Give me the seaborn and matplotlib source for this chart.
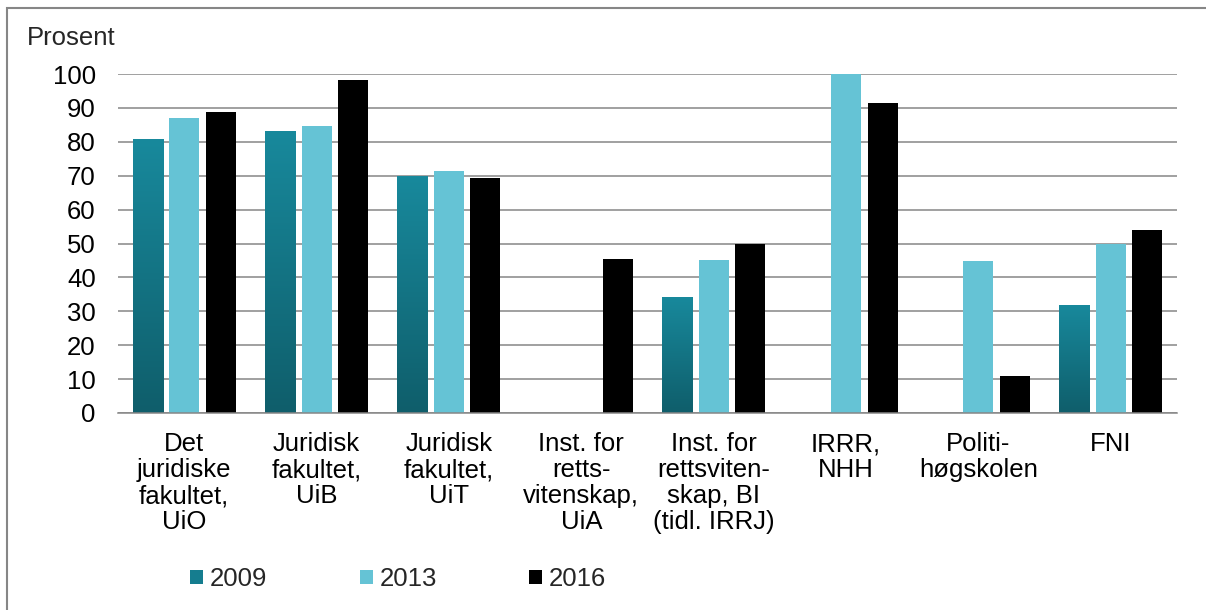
import numpy as np
import pandas as pd
import seaborn as sns
import matplotlib.pyplot as plt
from matplotlib.patches import Rectangle, Patch
from matplotlib.colors import LinearSegmentedColormap

# Chart data (percent)
institutions = [
    "Det\njuridiske\nfakultet,\nUiO",
    "Juridisk\nfakultet,\nUiB",
    "Juridisk\nfakultet,\nUiT",
    "Inst. for\nretts-\nvitenskap,\nUiA",
    "Inst. for\nrettsviten-\nskap, BI\n(tidl. IRRJ)",
    "IRRR,\nNHH",
    "Politi-\nhøgskolen",
    "FNI",
]
years = ["2009", "2013", "2016"]
values_2009 = [80.8, 83.2, 69.8, np.nan, 34.3, np.nan, np.nan, 32.0]
values_2013 = [86.9, 84.8, 71.3, np.nan, 45.1, 100.0, 44.7, 49.9]
values_2016 = [88.7, 98.1, 69.4, 45.4, 49.9, 91.3, 10.9, 54.1]

colors = {"2009": "#157D8F", "2013": "#65C3D5", "2016": "#000000"}

df = pd.DataFrame({
    "Institusjon": institutions * 3,
    "År": ["2009"] * 8 + ["2013"] * 8 + ["2016"] * 8,
    "Prosent": values_2009 + values_2013 + values_2016,
}).dropna()

sns.set_style("white")
plt.rcParams["font.family"] = ["Liberation Sans", "DejaVu Sans"]

fig = plt.figure(figsize=(12.06, 6.10), dpi=100)
W, H = 1206, 610
ax = fig.add_axes([118 / W, 1 - 413 / H, (1177 - 118) / W, (413 - 74) / H])

sns.barplot(data=df, x="Institusjon", y="Prosent", hue="År",
            order=institutions, hue_order=years, palette=colors, saturation=1,
            width=0.828, errorbar=None, linewidth=0, legend=False, ax=ax)

# narrow the bars to leave small gaps like the original
bar_w = 30 / 132.3
grad = LinearSegmentedColormap.from_list("g", ["#0F5E6B", "#18899C"])
for year, cont in zip(years, ax.containers):
    for p in cont:
        cx = p.get_x() + p.get_width() / 2
        p.set_x(cx - bar_w / 2)
        p.set_width(bar_w)
        if year == "2009":
            # vertical gradient fill for 2009 bars
            h = p.get_height()
            img = ax.imshow(np.linspace(0, 1, 100).reshape(-1, 1), cmap=grad,
                            origin="lower", aspect="auto",
                            extent=[cx - bar_w / 2, cx + bar_w / 2, 0, h],
                            zorder=p.get_zorder() + 0.1)
            img.set_clip_path(p)

ax.set_xlim(-0.5, len(institutions) - 0.5)
ax.set_ylim(0, 100)
ax.set_yticks(range(0, 101, 10))
ax.yaxis.grid(True, color="#868686", linewidth=1.1)
ax.set_axisbelow(True)
for s in ["left", "right", "top"]:
    ax.spines[s].set_visible(False)
ax.spines["bottom"].set_color("#868686")
ax.spines["bottom"].set_linewidth(1.1)
ax.tick_params(axis="y", length=0, pad=16, labelsize=18.5, labelcolor="black")
ax.tick_params(axis="x", length=0, pad=14, labelsize=18.5, labelcolor="black")
for lbl in ax.get_xticklabels():
    lbl.set_linespacing(1.1)
    lbl.set_verticalalignment("top")
ax.set_xlabel("")
ax.set_ylabel("")

fig.text(27 / W, 1 - 45 / H, "Prosent", fontsize=18.5, va="baseline", ha="left")

handles = [Patch(facecolor=colors[y], edgecolor="none") for y in years]
fig.legend(handles, years, loc="center left", bbox_to_anchor=(190 / W, 1 - 579 / H),
           ncol=3, frameon=False, fontsize=18.5, handlelength=0.5, handleheight=0.5,
           handletextpad=0.27, columnspacing=3.6, borderpad=0, borderaxespad=0)

# outer chart frame (top and left edges visible)
fig.add_artist(Rectangle((7 / W, -0.1), 2, 1.1 - 8 / H, transform=fig.transFigure,
                         fill=False, edgecolor="#868686", linewidth=1.5, clip_on=False))

fig.savefig("out.png", dpi=100)
